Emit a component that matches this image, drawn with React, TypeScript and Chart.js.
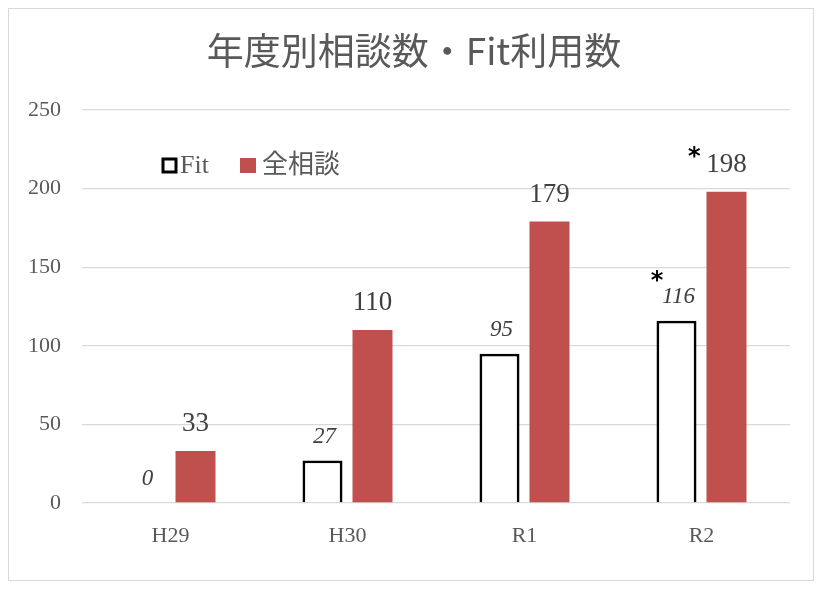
import React, { useEffect, useRef } from "react";
import { Chart, registerables } from "chart.js";

Chart.register(...registerables);

const categories = ["H29", "H30", "R1", "R2"];
const fitValues = [0, 27, 95, 116];
const allValues = [33, 110, 179, 198];
const fitMarks = ["", "", "", "*"];
const allMarks = ["", "", "", "*"];
const yTicks = [0, 50, 100, 150, 200, 250];
const titleText = "年度別相談数・Fit利用数";
const seriesNames = ["Fit", "全相談"];

const RED = "#C0504D";
const LSERIF = '"Liberation Serif", "Noto Sans CJK JP", serif';

const decorPlugin = {
  id: "decor",
  afterDraw(chart: any) {
    const ctx = chart.ctx;
    ctx.save();
    // outer border
    ctx.strokeStyle = "#d9d9d9";
    ctx.lineWidth = 1;
    ctx.strokeRect(0.5, 0.5, chart.width - 1, chart.height - 1);
    // title
    ctx.fillStyle = "#595959";
    ctx.font = '37px "Noto Sans CJK JP", sans-serif';
    ctx.textAlign = "center";
    ctx.textBaseline = "middle";
    ctx.fillText(titleText, chart.width / 2 + 3, 43);
    // legend
    const ly = 157;
    ctx.font = '26px ' + LSERIF;
    ctx.textAlign = "left";
    ctx.lineWidth = 3;
    ctx.strokeStyle = "#000";
    ctx.fillStyle = "#fff";
    ctx.fillRect(155, ly - 6, 13, 13);
    ctx.strokeRect(155, ly - 6, 13, 13);
    ctx.fillStyle = "#595959";
    ctx.fillText(seriesNames[0], 172, ly + 1);
    ctx.fillStyle = RED;
    ctx.fillRect(232, ly - 7, 16, 15);
    ctx.fillStyle = "#595959";
    ctx.fillText(seriesNames[1], 254, ly + 1);

    // data labels
    const sets = [
      { idx: 0, vals: fitValues, marks: fitMarks, font: 'italic 23px ' + LSERIF, off: 24, mdx: -5, mdy: -21 },
      { idx: 1, vals: allValues, marks: allMarks, font: '27px ' + LSERIF, off: 27, mdx: -12, mdy: -13 },
    ];
    sets.forEach((s) => {
      const meta = chart.getDatasetMeta(s.idx);
      meta.data.forEach((bar: any, i: number) => {
        const txt = String(s.vals[i]);
        ctx.font = s.font;
        ctx.fillStyle = "#404040";
        ctx.textAlign = "center";
        ctx.textBaseline = "middle";
        const x = bar.x + (s.idx === 0 ? 2 : 0);
        const y = bar.y - s.off;
        ctx.fillText(txt, x, y);
        if (s.marks[i]) {
          const w = ctx.measureText(txt).width;
          ctx.font = 'bold 24px "DejaVu Sans", sans-serif';
          ctx.fillStyle = "#000";
          ctx.fillText(s.marks[i], x - w / 2 + s.mdx, y + s.mdy + 6);
        }
      });
    });
    ctx.restore();
  },
};

export default function App() {
  const ref = useRef<HTMLCanvasElement>(null);
  useEffect(() => {
    if (!ref.current) return;
    const chart = new Chart(ref.current, {
      type: "bar",
      data: {
        labels: categories,
        datasets: [
          {
            label: seriesNames[0],
            data: fitValues,
            backgroundColor: "#ffffff",
            borderColor: "#000000",
            borderWidth: 2.8,
            barPercentage: 0.8,
            categoryPercentage: 0.565,
          },
          {
            label: seriesNames[1],
            data: allValues,
            backgroundColor: RED,
            borderWidth: 0,
            barPercentage: 0.8,
            categoryPercentage: 0.565,
          },
        ],
      },
      options: {
        animation: false,
        responsive: false,
        maintainAspectRatio: false,
        layout: { padding: { top: 102, right: 24, left: 0, bottom: 0 } },
        plugins: { legend: { display: false }, title: { display: false }, tooltip: { enabled: false } },
        scales: {
          x: {
            grid: { display: false, drawTicks: false },
            border: { display: false },
            ticks: { color: "#595959", font: { family: LSERIF, size: 22 }, padding: 20 },
            afterFit(scale: any) {
              scale.height = 78;
            },
          },
          y: {
            min: 0,
            max: 250,
            afterBuildTicks(scale: any) {
              scale.ticks = yTicks.map((v) => ({ value: v }));
            },
            grid: { color: "#d9d9d9", lineWidth: 1.3, drawTicks: false },
            border: { display: false },
            ticks: { color: "#595959", font: { family: LSERIF, size: 22 }, padding: 21 },
            afterFit(scale: any) {
              scale.width = 74;
            },
          },
        },
      },
      plugins: [decorPlugin],
    });
    return () => chart.destroy();
  }, []);
  return <canvas ref={ref} width={806} height={573} style={{ display: "block" }} />;
}
